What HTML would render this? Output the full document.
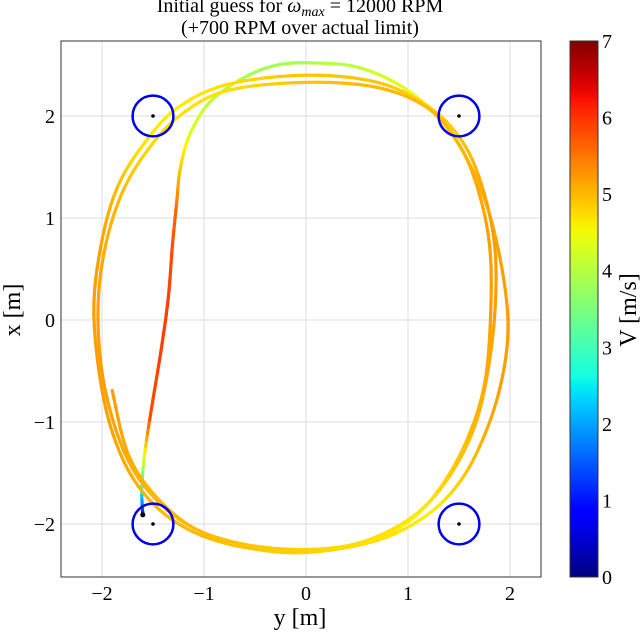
<!DOCTYPE html>
<html><head><meta charset="utf-8"><style>
body{margin:0;background:#fff;}
text{font-family:"Liberation Serif",serif;fill:#000;}
</style></head><body>
<svg id="c" width="640" height="632" xmlns="http://www.w3.org/2000/svg">
<defs><linearGradient id="jet" x1="0" y1="1" x2="0" y2="0"></linearGradient>
<clipPath id="pc"><rect x="61" y="41" width="480" height="536"/></clipPath></defs>
<text x="300" y="12" text-anchor="middle" font-size="20">Initial guess for <tspan font-style="italic">ω</tspan><tspan font-size="14" font-style="italic" dy="4">max</tspan><tspan dy="-4"> = 12000 RPM</tspan></text>
<text x="300" y="34" text-anchor="middle" font-size="20">(+700 RPM over actual limit)</text>
<g id="grid"></g>
<g id="traj" clip-path="url(#pc)"></g>
<g id="marks"></g>
<rect x="61" y="41" width="480" height="536" fill="none" stroke="#333" stroke-width="1"/>
<g id="axes"></g>
<text x="300" y="625" text-anchor="middle" font-size="24">y [m]</text>
<text transform="translate(20,310) rotate(-90)" text-anchor="middle" font-size="24">x [m]</text>
<rect x="570" y="41" width="28" height="536" fill="url(#jet)" stroke="#333"/>
<g id="cbar"></g>
<text transform="translate(636,310) rotate(-90)" text-anchor="middle" font-size="24">V [m/s]</text>
</svg>
<script>
const xTicks=[-2,-1,0,1,2];
const yTicks=[-2,-1,0,1,2];
const cbTicks=[0,1,2,3,4,5,6,7];
const trajY=[-1.6,-1.61,-1.58,-1.52,-1.42,-1.35,-1.31,-1.27,-1.23,-1.13,-0.93,-0.6,-0.28,0.08,0.54,1.0,1.36,1.62,1.81,1.94,1.98,1.91,1.75,1.52,1.19,0.7,0,-0.6,-1.1,-1.49,-1.78,-1.98,-2.08,-2.01,-1.85,-1.58,-1.26,-0.77,0,0.7,1.19,1.52,1.72,1.85,1.85,1.76,1.62,1.36,1.03,0.54,0,-0.6,-1.1,-1.49,-1.78,-1.98,-2.04,-1.98,-1.81,-1.55,-1.23,-0.77,0,0.7,1.19,1.49,1.68,1.8,1.81,1.75,1.58,1.32,1.0,0.54,0,-0.6,-1.1,-1.49,-1.75,-1.9];
const trajX=[-1.91,-1.64,-1.3,-0.9,-0.29,0.22,0.73,1.13,1.5,1.84,2.15,2.38,2.5,2.52,2.47,2.25,1.91,1.5,1.0,0.39,-0.12,-0.63,-1.13,-1.57,-1.91,-2.16,-2.28,-2.23,-2.08,-1.81,-1.4,-0.79,0.05,0.73,1.3,1.74,2.08,2.31,2.4,2.33,2.1,1.77,1.33,0.73,0.05,-0.63,-1.13,-1.6,-1.94,-2.18,-2.25,-2.2,-2.04,-1.74,-1.3,-0.63,0.05,0.66,1.23,1.67,2.01,2.25,2.33,2.28,2.08,1.74,1.3,0.73,0.05,-0.63,-1.17,-1.64,-1.98,-2.2,-2.26,-2.21,-2.04,-1.71,-1.3,-0.69];
const trajV=[0.5,2.6,4.4,5.8,5.9,5.9,5.8,5.6,4.9,4.4,4.1,3.9,3.8,3.9,4.1,4.4,4.6,5.0,5.1,5.2,5.2,5.2,5.1,4.9,4.6,4.7,4.8,4.9,5.0,5.0,5.1,5.2,5.2,5.2,5.0,4.7,4.6,4.7,4.9,4.9,4.8,4.9,5.1,5.2,5.2,5.1,5.0,4.9,4.7,4.7,4.8,4.9,5.0,5.0,5.1,5.2,5.2,5.1,5.0,4.8,4.7,4.7,4.9,5.0,5.0,5.0,5.1,5.2,5.2,5.1,5.0,4.8,4.6,4.7,4.8,4.9,5.0,5.0,5.1,5.2];
const obsY=[-1.5,1.5,-1.5,1.5];
const obsX=[2,2,-2,-2];
const NS='http://www.w3.org/2000/svg';
const sx=v=>306+v*102, sy=v=>320-v*102, cy=v=>577-v*(536/7);
function mk(t,a,p){const e=document.createElementNS(NS,t);for(const k in a)e.setAttribute(k,a[k]);p.appendChild(e);return e;}
function interp(t,pts){for(let i=0;i<pts.length-1;i++){const[a,va]=pts[i],[b,vb]=pts[i+1];if(t<=b)return va+(vb-va)*(t-a)/(b-a);}return pts[pts.length-1][1];}
function jet(v){const t=Math.max(0,Math.min(1,v/7));
 const r=interp(t,[[0,0],[0.35,0],[0.66,1],[0.89,1],[1,0.5]]);
 const g=interp(t,[[0,0],[0.125,0],[0.375,1],[0.64,1],[0.91,0],[1,0]]);
 const b=interp(t,[[0,0.5],[0.11,1],[0.34,1],[0.65,0],[1,0]]);
 return `rgb(${Math.round(r*255)},${Math.round(g*255)},${Math.round(b*255)})`;}
const grad=document.getElementById('jet');
for(let i=0;i<=40;i++){mk('stop',{offset:i/40,'stop-color':jet(7*i/40)},grad);}
const G=document.getElementById('grid'),A=document.getElementById('axes'),T=document.getElementById('traj'),M=document.getElementById('marks'),C=document.getElementById('cbar');
xTicks.forEach(v=>{let l=mk('line',{x1:sx(v),x2:sx(v),y1:41,y2:577,stroke:'#ddd','stroke-width':1},G);

let t=mk('text',{x:sx(v),y:600,'text-anchor':'middle','font-size':20},A);t.textContent=v<0?'−'+(-v):v;
});
yTicks.forEach(v=>{let l=mk('line',{x1:61,x2:541,y1:sy(v),y2:sy(v),stroke:'#ddd','stroke-width':1},G);

let t=mk('text',{x:55,y:sy(v)+7,'text-anchor':'end','font-size':20},A);t.textContent=v<0?'−'+(-v):v;
});
cbTicks.forEach(v=>{let t=mk('text',{x:602,y:cy(v)+7,'font-size':20},C);t.textContent=v;
});
const n=trajY.length;
for(let i=0;i<n-1;i++){
 const p0=i>0?i-1:i,p3=i+2<n?i+2:i+1;
 let px=sx(trajY[i]),py=sy(trajX[i]);
 for(let s=1;s<=6;s++){const t=s/6,t2=t*t,t3=t2*t;
  const cr=(a,b,c,d)=>0.5*((2*b)+(-a+c)*t+(2*a-5*b+4*c-d)*t2+(-a+3*b-3*c+d)*t3);
  const X=sx(cr(trajY[p0],trajY[i],trajY[i+1],trajY[p3])),Y=sy(cr(trajX[p0],trajX[i],trajX[i+1],trajX[p3]));
  const v=trajV[i]+(trajV[i+1]-trajV[i])*t;
  let l=mk('line',{x1:px,y1:py,x2:X,y2:Y,stroke:jet(v),'stroke-width':3.2,'stroke-linecap':'round'},T);
  
  px=X;py=Y;}}
obsY.forEach((v,i)=>{let c=mk('circle',{cx:sx(v),cy:sy(obsX[i]),r:20.4,fill:'none',stroke:'#0000ee','stroke-width':2.5},M);

let d=mk('circle',{cx:sx(v),cy:sy(obsX[i]),r:1.8,fill:'#000'},M);
});
let st=mk('circle',{cx:sx(trajY[0]),cy:sy(trajX[0]),r:2.5,fill:'#000'},M);

</script>
</body></html>
